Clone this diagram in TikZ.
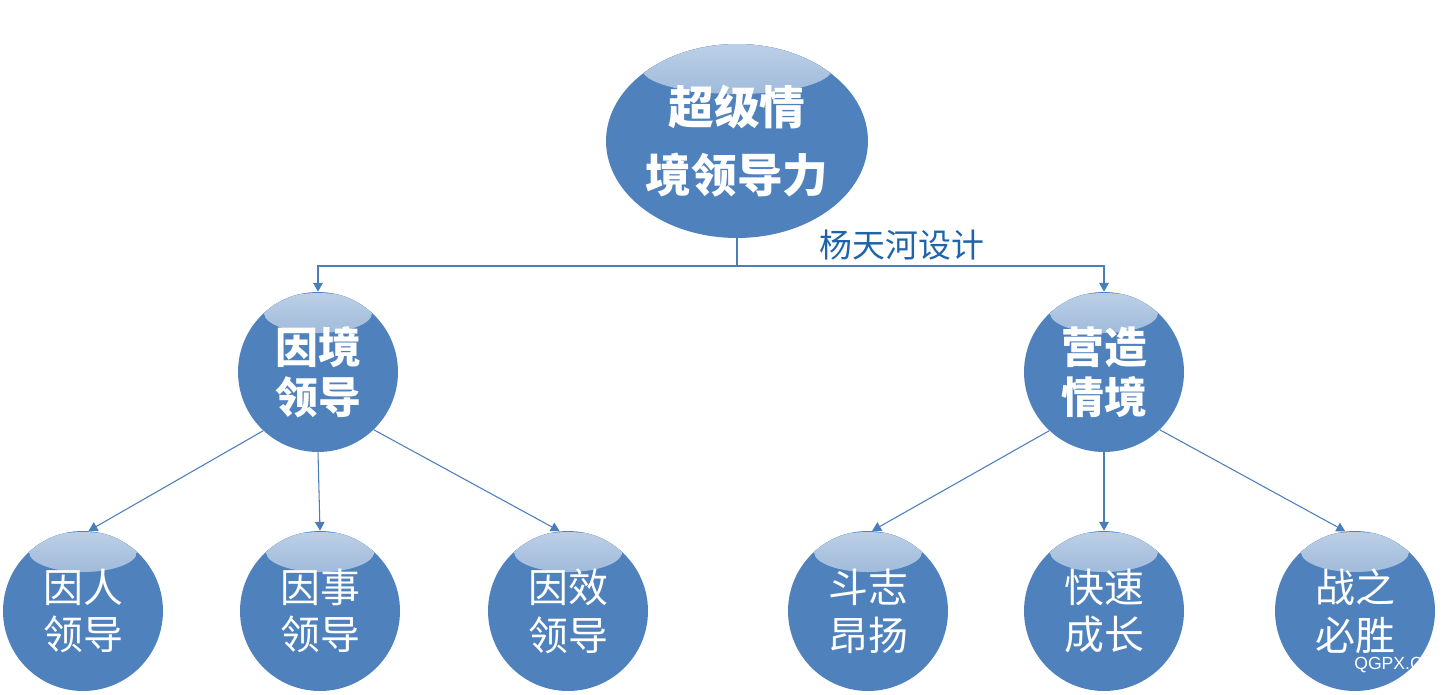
\documentclass[tikz,border=0pt]{standalone}
\usepackage{fontspec}
\newfontfamily\cjk{Noto Sans CJK SC}
\newfontfamily\wmfont{Liberation Sans}
\usepackage{tikz}
\usetikzlibrary{shapes.geometric, arrows.meta}

\definecolor{ballblue}{RGB}{79,129,189}
\definecolor{lineblue}{RGB}{74,126,187}
\definecolor{signblue}{RGB}{31,100,170}

\begin{document}
\begin{tikzpicture}[
        x=0.02cm, y=-0.02cm,
        bubble/.style={circle, fill=ballblue, minimum size=3.2cm, inner sep=0pt,
            text=white, align=center,
            path picture={\fill[top color=white!62!ballblue, bottom color=ballblue]
                ([yshift=-0.42cm]path picture bounding box.north) ellipse (1.08cm and 0.4cm);}},
        topball/.style={ellipse, fill=ballblue, minimum width=5.24cm, minimum height=3.88cm,
            inner sep=0pt, text=white, align=center,
            font=\cjk\bfseries\fontsize{26}{38.5}\selectfont,
            path picture={\fill[top color=white!62!ballblue, bottom color=ballblue]
                ([yshift=-0.5cm]path picture bounding box.north) ellipse (1.9cm and 0.5cm);}},
        mid/.style={bubble, font=\cjk\bfseries\fontsize{24.4}{28.3}\selectfont},
        leaf/.style={bubble, font=\cjk\fontsize{22.7}{27.2}\selectfont},
        conn/.style={draw=lineblue, line width=0.6pt},
        arr/.style={conn, -{Triangle[width=5.5pt,length=5pt]}}
    ]
    \useasboundingbox (0,0) rectangle (1453,694);

    % Top node
    \node[topball] (top) at (737,141) {超级情\\境领导力};
    \node[text=signblue, font=\cjk\fontsize{18.7}{22}\selectfont] (sign) at (902,245) {杨天河设计};

    % Second level
    \node[mid] (kunjing) at (318,372) {因境\\领导};
    \node[mid] (yingzao) at (1104,372) {营造\\情境};

    % Leaves
    \node[leaf] (yinren) at (83,611) {因人\\领导};
    \node[leaf] (yinshi) at (320,611) {因事\\领导};
    \node[leaf] (yinxiao) at (568,611) {因效\\领导};
    \node[leaf] (douzhi) at (868,611) {斗志\\昂扬};
    \node[leaf] (kuaisu) at (1104,611) {快速\\成长};
    \node[leaf] (zhanzhi) at (1355,611) {战之\\必胜};

    % Branch from top node
    \coordinate (split) at (737,266);
    \draw[conn] (top.south) -- (split);
    \draw[arr] (split) -| (kunjing.north);
    \draw[arr] (split) -| (yingzao.north);

    % Left branch
    \draw[arr] (kunjing.-133) -- (yinren.86);
    \draw[arr] (kunjing.south) -- (yinshi.north);
    \draw[arr] (kunjing.-46) -- (yinxiao.96);

    % Right branch
    \draw[arr] (yingzao.-133) -- (douzhi.87);
    \draw[arr] (yingzao.south) -- (kuaisu.north);
    \draw[arr] (yingzao.-46) -- (zhanzhi.97);

    % Watermark
    \node[anchor=west, text=white, font=\wmfont\fontsize{10}{12}\selectfont, inner sep=0pt] (wm) at (1354,665) {QGPX.C};
\end{tikzpicture}
\end{document}
